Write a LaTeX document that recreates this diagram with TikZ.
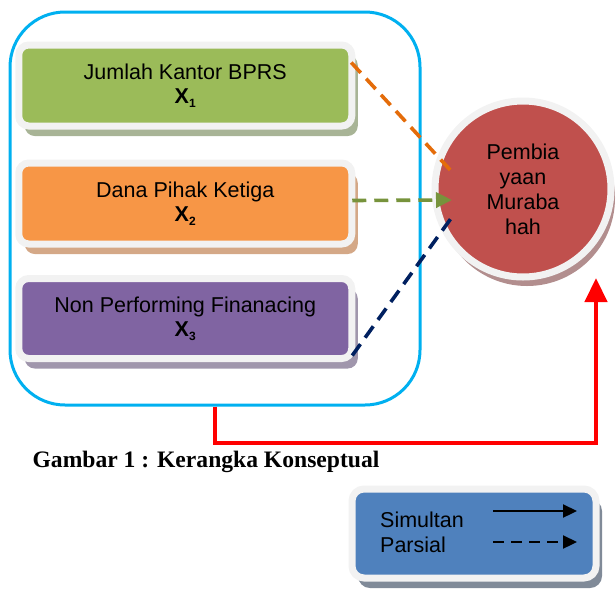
\documentclass[tikz,border=0pt]{standalone}
\usepackage{fontspec}
\setmainfont{Liberation Sans}
\newfontfamily\capfont{Liberation Serif}
\usetikzlibrary{arrows.meta,calc,shadows}
\definecolor{ringgray}{RGB}{242,242,242}
\definecolor{fgreen}{RGB}{155,187,89}
\definecolor{forange}{RGB}{247,150,70}
\definecolor{fpurple}{RGB}{128,100,162}
\definecolor{fred}{RGB}{192,80,77}
\definecolor{fblue}{RGB}{79,129,189}
\definecolor{sgreen}{RGB}{168,180,150}
\definecolor{sorange}{RGB}{212,168,135}
\definecolor{spurple}{RGB}{160,150,172}
\definecolor{sred}{RGB}{178,142,142}
\definecolor{sblue}{RGB}{128,138,152}
\definecolor{dorange}{RGB}{228,108,10}
\definecolor{dgreen}{RGB}{119,147,60}
\definecolor{dnavy}{RGB}{0,32,96}
\definecolor{framecyan}{RGB}{0,176,240}
\definecolor{arrowred}{RGB}{255,0,0}
\newcommand{\xvar}[1]{\textbf{X}\raisebox{-4pt}{\fontsize{12}{12}\selectfont\bfseries #1}}
\begin{document}
\begin{tikzpicture}[x=1pt,y=-1pt,
  txt/.style={font=\fontsize{21.5}{25}\selectfont, text=black},
  varbox/.style={txt, rectangle, rounded corners=10pt, draw=ringgray, line width=7pt,
    minimum width=333pt, minimum height=81pt, inner sep=0pt, align=center,
    general shadow={shadow xshift=6pt, shadow yshift=-10pt, fill=#1}},
  partial/.style={line width=3.6pt, dash pattern=on 14pt off 8pt},
  legarrow/.style={line width=2.3pt, -{Triangle[length=14pt,width=13pt]}}
]
\useasboundingbox (0,0) rectangle (616,590);

% container
\node[draw=framecyan, line width=3pt, rounded corners=55pt, minimum width=410pt,
  minimum height=393pt, inner sep=0pt] (frame) at (215,208.5) {};

% variable boxes
\node[varbox=sgreen, fill=fgreen] (b1) at (185.25,85.5) {Jumlah Kantor BPRS\\[-1pt]\xvar{1}};
\node[varbox=sorange, fill=forange] (b2) at (185.25,203.5) {Dana Pihak Ketiga\\[-1pt]\xvar{2}};
\node[varbox=spurple, fill=fpurple, minimum height=80pt] (b3) at (185.25,318.5) {Non Performing Finanacing\\[-1pt]\xvar{3}};

% dependent variable circle
\node[txt, circle, fill=fred, draw=ringgray, line width=7pt, minimum size=176pt,
  inner sep=0pt, align=center,
  general shadow={shadow xshift=4pt, shadow yshift=-9pt, fill=sred}] (circ) at (523,189)
  {Pembia\\yaan\\Muraba\\hah};

% partial connectors
\draw[partial, dorange] ($(b1.east)+(-4,-23)$) -- ($(circ.center)+(-70,-16)$);
\draw[partial, dgreen, -{Triangle[length=16pt,width=15pt]}] ($(b2.east)+(-3,-3)$) -- ($(circ.center)+(-71,11)$);
\draw[partial, dnavy] ($(b3.east)+(-3,37)$) -- ($(circ.center)+(-71,28)$);

% simultaneous connector
\coordinate (rc) at (596,443);
\coordinate (rtip) at (596,278);
\draw[arrowred, line width=4.5pt, -{Triangle[length=24pt,width=22pt]}]
  (frame.south) |- (rc) -- (rtip);

% caption
\node[font=\capfont\bfseries\fontsize{23.6}{28}\selectfont] (cap) at (206,462) {Gambar 1 : Kerangka Konseptual};

% legend
\node[rectangle, rounded corners=12pt, fill=fblue, draw=ringgray, line width=7pt,
  minimum width=244pt, minimum height=89pt, inner sep=0pt,
  general shadow={shadow xshift=6pt, shadow yshift=-10pt, fill=sblue}] (legend) at (474,533.5) {};
\node[txt, anchor=west, inner sep=0pt] (sim) at (380,520) {Simultan};
\node[txt, anchor=west, inner sep=0pt] (par) at (380,545) {Parsial};
\coordinate (ls1) at (493,511);
\coordinate (le1) at (577,511);
\coordinate (ls2) at (493,542);
\coordinate (le2) at (577,542);
\draw[legarrow] (ls1) -- (le1);
\draw[legarrow, dash pattern=on 11pt off 7pt] (ls2) -- (le2);
\end{tikzpicture}
\end{document}
